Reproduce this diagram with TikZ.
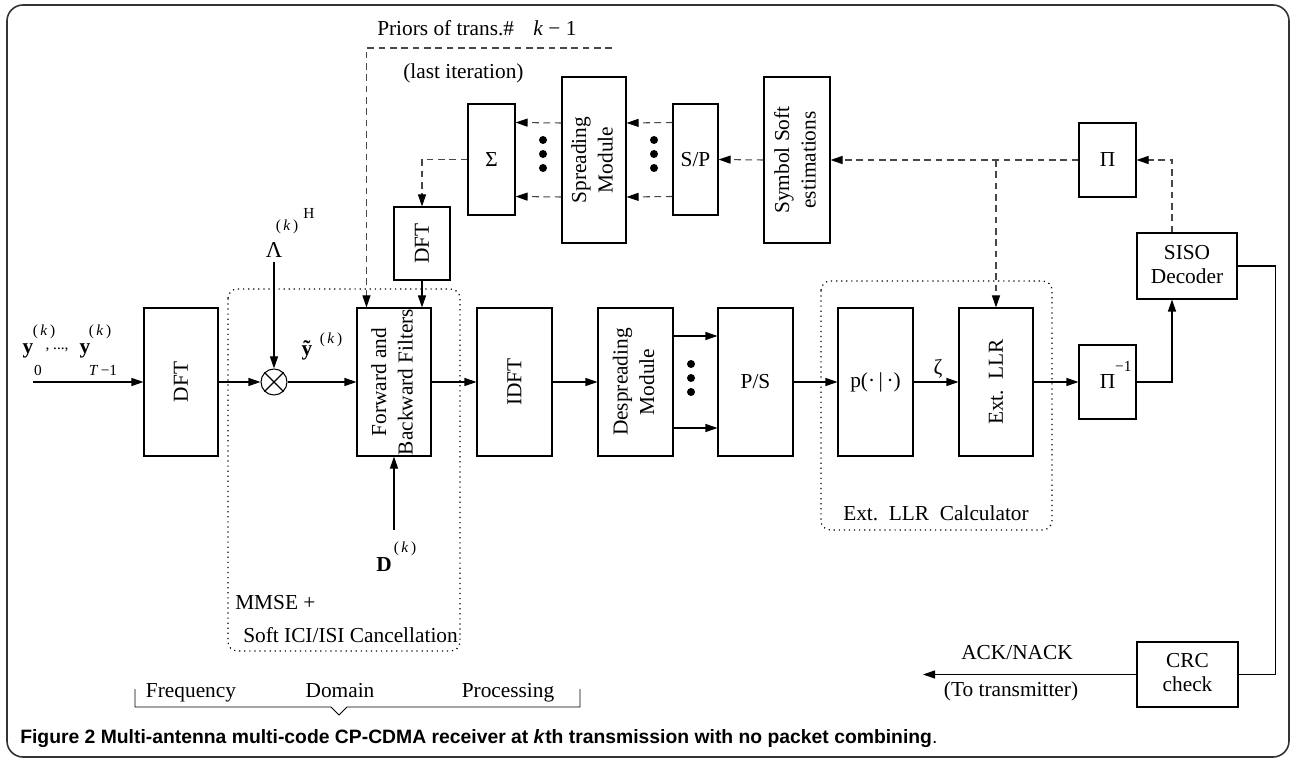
\documentclass[tikz,border=0pt]{standalone}
\usepackage{fontspec}
\usepackage{graphicx}
\setmainfont{Liberation Serif}
\newfontfamily\capfont{Liberation Sans}
\usetikzlibrary{arrows.meta,calc}
\newcommand\msz{\fontsize{16}{20}\selectfont}
\newcommand\ssz{\fontsize{11.5}{13}\selectfont}
\newcommand\rot[1]{\rotatebox{90}{\begin{tabular}{@{}c@{}}#1\end{tabular}}}
\tikzset{
  blk/.style 2 args={draw, line width=0.8pt, minimum width=#1*0.75pt, minimum height=#2*0.75pt, inner sep=0pt, font=\msz},
  arr/.style={-{Triangle[length=9pt,width=6pt,color=black]}, line width=0.8pt},
  dline/.style={dash pattern=on 5pt off 3.5pt, draw=black!72, line width=0.8pt},
  darr/.style={arr, dline},
  dotbox/.style={dash pattern=on 0.9pt off 2.9pt, line width=0.9pt, rounded corners=7pt},
  lbl/.style={inner sep=0pt, font=\msz},
  sml/.style={inner sep=0pt, font=\ssz},
  bigdot/.style={fill=black}
}
\begin{document}
\begin{tikzpicture}[x=0.75pt,y=-0.75pt]
\useasboundingbox (0,0) rectangle (1293,759);
\draw[rounded corners=12pt, line width=1.2pt, black!80] (7,5) rectangle (1289,757);

% dotted group boxes
\draw[dotbox] (228,289) rectangle (460,651);
\draw[dotbox] (821,281) rectangle (1052,530);

% main row blocks
\node[blk={74}{148}] (dft) at (181,382) {\rotatebox{90}{DFT}};
\node[draw, circle, minimum size=19.5pt, inner sep=0pt, line width=0.8pt] (ot) at (274,382) {};
\draw[line width=0.8pt] (ot.north west) -- (ot.south east) (ot.north east) -- (ot.south west);
\node[blk={74}{148}] (fwd) at (394,382) {\rot{Forward and\\Backward Filters}};
\node[blk={75}{148}] (idft) at (514.5,382) {\rotatebox{90}{IDFT}};
\node[blk={75}{148}] (desp) at (635.5,382) {\rot{Despreading\\Module}};
\node[blk={75}{148}] (ps) at (755.5,382) {P/S};
\node[blk={75}{148}] (pb) at (875.5,382) {p(·\,|\,·)};
\node[blk={74}{148}] (ext) at (996,382) {\rotatebox{90}{Ext.\ \ LLR}};
\node[blk={57}{74}] (pinv) at (1107.5,382) {Π\rlap{\smash{\raisebox{13pt}{\ssz −1}}}\hspace{6pt}};
\node[blk={100}{66}] (siso) at (1187,266) {\begin{tabular}{@{}c@{}}SISO\\[-2pt]Decoder\end{tabular}};
\node[blk={101}{65}] (crc) at (1187.5,674.5) {\begin{tabular}{@{}c@{}}CRC\\[-2pt]check\end{tabular}};

% upper row blocks
\node[blk={57}{74}] (pi) at (1107.5,160) {Π};
\node[blk={66}{166}] (sym) at (797,160) {\rot{Symbol Soft\\estimations}};
\node[blk={45}{111}] (sp) at (695.5,159.5) {S/P};
\node[blk={64}{166}] (spr) at (594,160) {\rot{Spreading\\Module}};
\node[blk={47}{111}] (sig) at (491.5,159.5) {Σ};
\node[blk={56}{73}] (dft2) at (422,243.5) {\rotatebox{90}{DFT}};

% input labels
\coordinate (in) at (33,382);
\node[lbl] (y0) at (28,351) {\textbf{y}};
\node[sml] (y0k) at (44,332) {(\,\textit{k}\,)};
\node[sml] (y0s) at (38,370) {0};
\node[sml] (cm) at (57,350) {, ...,};
\node[lbl] (yT) at (85,351) {\textbf{y}};
\node[sml] (yTk) at (100,332) {(\,\textit{k}\,)};
\node[sml] (yTs) at (103,370) {\textit{T}\,−1};

% Lambda
\node[lbl, font=\fontsize{17}{20}\selectfont] (lam) at (274,250) {Λ};
\node[sml] (lamk) at (287,227) {(\,\textit{k}\,)};
\node[sml] (lamh) at (309,213) {H};
\coordinate (lamtop) at (274,262);

% y tilde
\node[lbl] (yt) at (307,350) {\textbf{ỹ}};
\node[sml] (ytk) at (331,340) {(\,\textit{k}\,)};

% D
\node[lbl] (dd) at (384,565) {\textbf{D}};
\node[sml] (ddk) at (405,549) {(\,\textit{k}\,)};
\coordinate (dtop) at (394,530);

% zeta
\node[lbl] (zeta) at (938,369) {ζ};

% text labels
\node[lbl, anchor=west] (priors) at (377,28) {Priors of trans.\#\hspace{0.9em}\textit{k} − 1};
\node[lbl, anchor=west] (last) at (403,73) {(last iteration)};
\node[lbl, anchor=west] (mm1) at (235,603) {MMSE +};
\node[lbl, anchor=west] (mm2) at (243,635) {Soft ICI/ISI Cancellation};
\node[lbl] (calc) at (936,513) {Ext.\ \ LLR\ \ Calculator};
\node[lbl] (ack) at (1017,653) {ACK/NACK};
\node[lbl] (tot) at (1011,691) {(To transmitter)};
\node[lbl, anchor=base] (fq) at (191,697) {Frequency};
\node[lbl, anchor=base] (dom) at (340,697) {Domain};
\node[lbl, anchor=base] (proc) at (508,697) {Processing};
\draw[line width=0.7pt] (135,689) -- (135,707) -- (331,707) -- (339,715) -- (347,707) -- (580,707) -- (580,689);

\node[anchor=base west, inner sep=0pt, font=\capfont\fontsize{14.5}{16}\selectfont] (cap) at (20,743)
  {\textbf{Figure 2 Multi-antenna multi-code CP-CDMA receiver at \textit{k}th transmission with no packet combining}.};

% solid connectors
\draw[arr] (in) -- (dft.west);
\draw[arr] (dft.east) -- (ot.west);
\draw[arr] (lamtop) -- (ot.north);
\draw[arr] (ot.east) -- (fwd.west);
\draw[arr] (fwd.east) -- (idft.west);
\draw[arr] (idft.east) -- (desp.west);
\draw[arr] ($(desp.east)+(0,-46)$) -- ($(ps.west)+(0,-46)$);
\draw[arr] ($(desp.east)+(0,46)$) -- ($(ps.west)+(0,46)$);
\fill[bigdot] (691,364) circle (3pt) (691,378) circle (3pt) (691,392) circle (3pt);
\draw[arr] (ps.east) -- (pb.west);
\draw[arr] (pb.east) -- (ext.west);
\draw[arr] (ext.east) -- (pinv.west);
\draw[arr] (pinv.east) -| ($(siso.south)+(-15,0)$);
\draw[line width=0.8pt] (siso.east) -- ++(38,0) |- (crc.east);
\coordinate (ackend) at (923,674.5);
\draw[arr] (crc.west) -- (ackend);
\draw[arr] (dtop) -- (fwd.south);
\draw[arr] (dft2.south) -- (dft2.south |- fwd.north);

% dashed connectors
\draw[darr] ($(siso.north)+(-15,0)$) |- (pi.east);
\draw[darr] (pi.west) -- (sym.east);
\draw[darr] (ext.north |- pi.west) -- (ext.north);
\draw[darr] (sym.west) -- (sp.east);
\draw[darr] ($(sp.west)+(0,-37)$) -- ($(spr.east)+(0,-37)$);
\draw[darr] ($(sp.west)+(0,37)$) -- ($(spr.east)+(0,37)$);
\draw[darr] ($(spr.west)+(0,-37)$) -- ($(sig.east)+(0,-37)$);
\draw[darr] ($(spr.west)+(0,37)$) -- ($(sig.east)+(0,37)$);
\fill[bigdot] (543,140) circle (3pt) (543,154) circle (3pt) (543,168) circle (3pt);
\fill[bigdot] (654,140) circle (3pt) (654,154) circle (3pt) (654,168) circle (3pt);
\draw[darr] (sig.west) -| (dft2.north);
\coordinate (prend) at (612,48);
\draw[darr] (prend) -| ($(fwd.north west)+(10,0)$);
\end{tikzpicture}
\end{document}
